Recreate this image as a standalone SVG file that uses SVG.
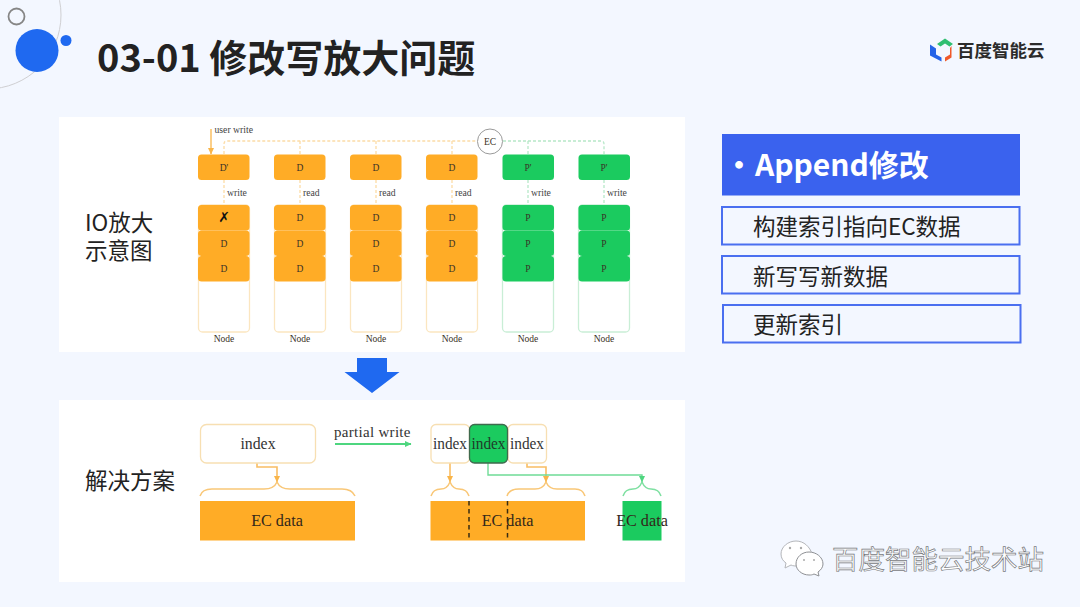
<svg xmlns="http://www.w3.org/2000/svg" width="1080" height="607" viewBox="0 0 1080 607">
<style>
.cjk{font-family:"Noto Sans CJK SC","Noto Sans",sans-serif}
.t{font-size:9.5px;text-anchor:middle;font-family:"Liberation Serif",serif;fill:#3a3226}
.l{font-size:9.700px;font-family:"Liberation Serif",serif;fill:#444}
.o{fill:#ffac26}.g{fill:#1bcb5f}
.no{fill:#fff;stroke:#fbe6c0;stroke-width:1.3}
.ng{fill:#fff;stroke:#c9eed6;stroke-width:1.3}
.do{fill:none;stroke:#fcdca6;stroke-width:1.3;stroke-dasharray:3 2}
.dg{fill:none;stroke:#b6e8c8;stroke-width:1.3;stroke-dasharray:3 2}
.side{font-size:22.500px;fill:#222;font-family:"Noto Sans CJK SC",sans-serif}
.lab{font-size:22.500px;fill:#222;font-family:"Noto Sans CJK SC",sans-serif}
.box{fill:none;stroke:#4a6ff0;stroke-width:2}
.ix{font-size:15.800px;text-anchor:middle;font-family:"Liberation Serif",serif;fill:#333}
.ec{font-size:16.200px;text-anchor:middle;font-family:"Liberation Serif",serif;fill:#33281a}
.ib{fill:#fff;stroke:#f7dfb2;stroke-width:1.3}
.br{fill:none;stroke:#f9c777;stroke-width:1.5}
.ar{fill:none;stroke:#f9bd63;stroke-width:1.6}
.brg{fill:none;stroke:#7fe0a2;stroke-width:1.5}
</style>
<defs>
<marker id="mo" markerUnits="userSpaceOnUse" markerWidth="7" markerHeight="7" refX="6" refY="3.500" orient="auto"><path d="M0 .5L6.500 3.500L0 6.500Z" fill="#f9b54a"/></marker>
<marker id="mg" markerUnits="userSpaceOnUse" markerWidth="7" markerHeight="7" refX="6" refY="3.500" orient="auto"><path d="M0 .5L6.500 3.500L0 6.500Z" fill="#4ed67f"/></marker>
</defs>
<rect width="1080" height="607" fill="#f3f7ff"/>

<g id="decor">
<circle cx="-13" cy="15" r="74" fill="none" stroke="#cfcfd2" stroke-width="1"/>
<circle cx="37" cy="50.500" r="21.500" fill="#1f69f0"/>
<circle cx="66" cy="40.500" r="5.500" fill="#1f69f0"/>
<circle cx="16.500" cy="16.500" r="8" fill="#f3f7ff" stroke="#868686" stroke-width="1.800"/>
</g>
<text id="title" x="97" y="72" class="cjk" font-size="38" font-weight="700" fill="#222">03-01 修改写放大问题</text>

<g id="logo">
<path d="M937 44L945 38.500L953 44L949.500 46.500L945 43.500L940.500 46.500Z" fill="#2fbf71"/>
<path d="M930 44.500L936 48.500V54.500L941.500 57.500V61.500L930 55.500Z" fill="#2463e8"/>
<path d="M951.500 46L950 48V54.500L945 57.500V61.500L951.500 57.500Z" fill="#f0592a"/>
<text x="957" y="57" class="cjk" font-size="17.500" font-weight="700" fill="#2b2b2b">百度智能云</text>
</g>

<rect id="panel1" x="59" y="117" width="626" height="235" fill="#fff"/>
<rect id="panel2" x="59" y="400" width="626" height="182" fill="#fff"/>

<g id="connectors">
<path class="do" d="M224 154V144Q224 141 227 141H477"/>
<path class="do" d="M300 154V141M376 154V141M452 154V141"/>
<path class="dg" d="M503 141H601Q604 141 604 144V154M528 154V141"/>
<path class="do" d="M224 180V205M300 180V205M376 180V205M452 180V205"/>
<path class="dg" d="M528 180V205M604 180V205"/>
<path d="M211 129V154" stroke="#f9b54a" stroke-width="1.300" fill="none" marker-end="url(#mo)"/>
<path d="M335 444H411" stroke="#4ed67f" stroke-width="1.800" fill="none" marker-end="url(#mg)"/>
<path class="ar" d="M257 463V467H277V482" marker-end="url(#mo)"/>
<path class="ar" d="M450 463V482" marker-end="url(#mo)"/>
<path class="ar" d="M527 463V467H546V482" marker-end="url(#mo)"/>
<path d="M488 463V475H642V482" fill="none" stroke="#6fdc96" stroke-width="1.400" marker-end="url(#mg)"/>
<path class="br" d="M200 496Q202 489 212 489H264Q274 489 277 482Q280 489 290 489H342Q352 489 355 496"/>
<path class="br" d="M431 496Q433 489 441 489Q447 489 450 482Q453 489 459 489Q467 489 469 496"/>
<path class="br" d="M507 496Q509 489 519 489H535Q543 489 546 482Q549 489 557 489H575Q583 489 585 496"/>
<path class="brg" d="M623 496Q625 489 633 489Q639 489 642 482Q645 489 651 489Q659 489 661 496"/>
</g>

<text class="l" x="214.500" y="132.500">user write</text>
<g id="ec-node"><circle cx="490" cy="141.500" r="12.500" fill="#fff" stroke="#9a9a9a" stroke-width="1"/><text class="t" x="490" y="145">EC</text></g>

<g id="col1">
<rect class="no" x="198.500" y="205" width="51" height="127" rx="4"/>
<rect class="o" x="198" y="154.500" width="51.500" height="25.500" rx="3.500"/><text class="t" x="224" y="170.500">D'</text>
<rect class="o" x="198" y="205" width="51.500" height="25.500" rx="3.500"/><rect class="o" x="198" y="230.500" width="51.500" height="25.500" rx="3.500"/><rect class="o" x="198" y="256" width="51.500" height="25.500" rx="3.500"/>
<text x="224" y="222" font-size="14" text-anchor="middle" font-family="DejaVu Sans,sans-serif" fill="#111">✗</text>
<text class="t" x="224" y="246.500">D</text><text class="t" x="224" y="272">D</text><text class="t" x="224" y="342">Node</text>
<text class="l" x="227" y="196">write</text>
</g>
<g id="col2">
<rect class="no" x="274.500" y="205" width="51" height="127" rx="4"/>
<rect class="o" x="274" y="154.500" width="51.500" height="25.500" rx="3.500"/><text class="t" x="300" y="170.500">D</text>
<rect class="o" x="274" y="205" width="51.500" height="25.500" rx="3.500"/><rect class="o" x="274" y="230.500" width="51.500" height="25.500" rx="3.500"/><rect class="o" x="274" y="256" width="51.500" height="25.500" rx="3.500"/>
<text class="t" x="300" y="221">D</text><text class="t" x="300" y="246.500">D</text><text class="t" x="300" y="272">D</text><text class="t" x="300" y="342">Node</text>
<text class="l" x="303" y="196">read</text>
</g>
<g id="col3">
<rect class="no" x="350.500" y="205" width="51" height="127" rx="4"/>
<rect class="o" x="350" y="154.500" width="51.500" height="25.500" rx="3.500"/><text class="t" x="376" y="170.500">D</text>
<rect class="o" x="350" y="205" width="51.500" height="25.500" rx="3.500"/><rect class="o" x="350" y="230.500" width="51.500" height="25.500" rx="3.500"/><rect class="o" x="350" y="256" width="51.500" height="25.500" rx="3.500"/>
<text class="t" x="376" y="221">D</text><text class="t" x="376" y="246.500">D</text><text class="t" x="376" y="272">D</text><text class="t" x="376" y="342">Node</text>
<text class="l" x="379" y="196">read</text>
</g>
<g id="col4">
<rect class="no" x="426.500" y="205" width="51" height="127" rx="4"/>
<rect class="o" x="426" y="154.500" width="51.500" height="25.500" rx="3.500"/><text class="t" x="452" y="170.500">D</text>
<rect class="o" x="426" y="205" width="51.500" height="25.500" rx="3.500"/><rect class="o" x="426" y="230.500" width="51.500" height="25.500" rx="3.500"/><rect class="o" x="426" y="256" width="51.500" height="25.500" rx="3.500"/>
<text class="t" x="452" y="221">D</text><text class="t" x="452" y="246.500">D</text><text class="t" x="452" y="272">D</text><text class="t" x="452" y="342">Node</text>
<text class="l" x="455" y="196">read</text>
</g>
<g id="col5">
<rect class="ng" x="502.500" y="205" width="51" height="127" rx="4"/>
<rect class="g" x="502.500" y="154.500" width="51.500" height="25.500" rx="3.500"/><text class="t" x="528" y="170.500">P'</text>
<rect class="g" x="502.500" y="205" width="51.500" height="25.500" rx="3.500"/><rect class="g" x="502.500" y="230.500" width="51.500" height="25.500" rx="3.500"/><rect class="g" x="502.500" y="256" width="51.500" height="25.500" rx="3.500"/>
<text class="t" x="528" y="221">P</text><text class="t" x="528" y="246.500">P</text><text class="t" x="528" y="272">P</text><text class="t" x="528" y="342">Node</text>
<text class="l" x="531" y="196">write</text>
</g>
<g id="col6">
<rect class="ng" x="578.500" y="205" width="51" height="127" rx="4"/>
<rect class="g" x="578.500" y="154.500" width="51.500" height="25.500" rx="3.500"/><text class="t" x="604" y="170.500">P'</text>
<rect class="g" x="578.500" y="205" width="51.500" height="25.500" rx="3.500"/><rect class="g" x="578.500" y="230.500" width="51.500" height="25.500" rx="3.500"/><rect class="g" x="578.500" y="256" width="51.500" height="25.500" rx="3.500"/>
<text class="t" x="604" y="221">P</text><text class="t" x="604" y="246.500">P</text><text class="t" x="604" y="272">P</text><text class="t" x="604" y="342">Node</text>
<text class="l" x="607" y="196">write</text>
</g>

<text id="io-label" class="side"><tspan x="85" y="231">IO放大</tspan><tspan x="85" y="259">示意图</tspan></text>
<text id="solution-label" class="side" x="85" y="489">解决方案</text>

<path id="down-arrow" d="M357 358H387V372H399.500L372 393L344.500 372H357Z" fill="#1f69f0"/>

<g id="index-left"><rect class="ib" x="200.500" y="424.500" width="115" height="38.500" rx="6"/><text class="ix" x="258" y="449">index</text></g>
<text id="partial" x="334" y="436.500" font-size="15" font-family="Liberation Serif,serif" fill="#333" letter-spacing=".3">partial write</text>
<g id="ec-left"><rect class="o" x="200" y="501" width="155" height="39.500"/><text class="ec" x="277" y="526">EC data</text></g>

<g id="index-a"><rect class="ib" x="431" y="424.500" width="38.500" height="38.500" rx="5"/></g>
<g id="index-c"><rect class="ib" x="508" y="424.500" width="38.500" height="38.500" rx="5"/></g>
<g id="index-b"><rect x="469.500" y="424.500" width="38" height="38.500" rx="5" fill="#1bcb5f" stroke="#3f6a4e" stroke-width="1.300"/></g>
<text class="ix" x="450" y="449" textLength="34" lengthAdjust="spacingAndGlyphs">index</text><text class="ix" x="527" y="449" textLength="34" lengthAdjust="spacingAndGlyphs">index</text><text class="ix" x="488.500" y="449" textLength="34" lengthAdjust="spacingAndGlyphs" style="fill:#20392a">index</text>
<g id="ec-mid"><rect class="o" x="430.500" y="501" width="154.500" height="39.500"/><path d="M469 501V540M507.500 501V540" stroke="#3a2c12" stroke-width="1.500" stroke-dasharray="4.500 3.500" fill="none"/><text class="ec" x="507.500" y="526">EC data</text></g>
<g id="ec-right"><rect class="g" x="622.500" y="501" width="39" height="39.500"/><text class="ec" x="642" y="526">EC data</text></g>

<g id="append"><rect x="722" y="134" width="298" height="61.500" fill="#3a62ee"/><text x="724" y="176" class="cjk" font-size="30" font-weight="700" fill="#fff">•</text><text x="755" y="176" class="cjk" font-size="30" font-weight="700" fill="#fff">Append修改</text></g>
<g id="item1"><rect class="box" x="722" y="207" width="297.500" height="37.500"/><text class="lab" x="753" y="235">构建索引指向EC数据</text></g>
<g id="item2"><rect class="box" x="722" y="256" width="297.500" height="37.500"/><text class="lab" x="753" y="285">新写写新数据</text></g>
<g id="item3"><rect class="box" x="723" y="305" width="297.500" height="37.500"/><text class="lab" x="753" y="333">更新索引</text></g>

<g id="wechat">
<path d="M796 541C788 541 781 547 781 554C781 558 783 561 786 563L785 568L791 565C793 566 795 566 798 566L812 554C810 547 804 541 796 541Z" fill="#fff" stroke="#b4b6ba" stroke-width="1"/>
<path d="M809 552C802 552 796 557 796 564C796 570 802 575 809 575C811 575 812 575 814 574L819 576L818 572C821 570 823 567 823 564C823 557 816 552 809 552Z" fill="#fff" stroke="#8e9094" stroke-width="1"/>
<circle cx="790" cy="548" r="1.200" fill="#aaa"/><circle cx="801" cy="548" r="1.200" fill="#aaa"/><circle cx="804" cy="560" r="1" fill="#aaa"/><circle cx="814" cy="560" r="1" fill="#aaa"/>
<text x="832" y="569" class="cjk" font-size="26.500" fill="#fff" stroke="#77797d" stroke-width=".7">百度智能云技术站</text>
</g>
</svg>
